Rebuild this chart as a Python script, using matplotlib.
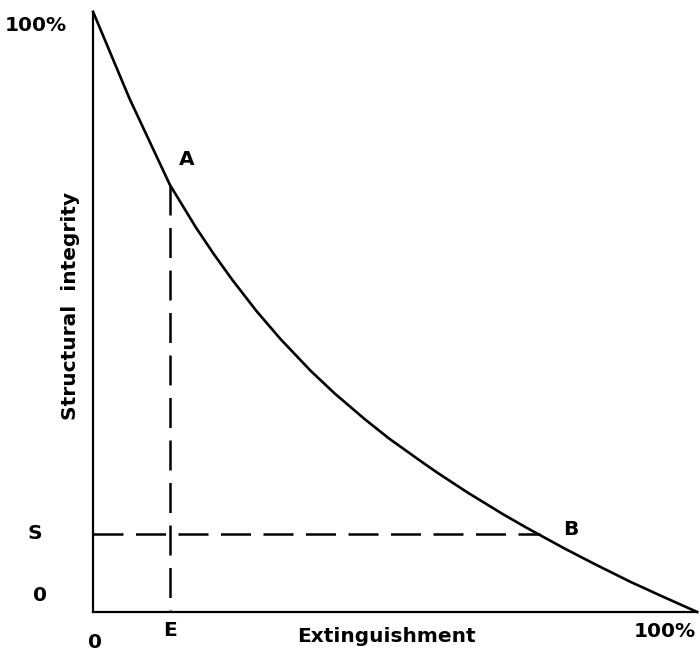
import matplotlib
matplotlib.use('Agg')
import matplotlib.pyplot as plt

# curve (extinguishment %, structural integrity %)
ext = [0, 6, 12.7, 17, 20, 23, 27, 31, 36, 40, 45,
       49, 54, 57, 62, 68, 72, 78, 83, 89, 94, 100]
integ = [100, 85.6, 71.2, 64.1, 59.6, 55.4, 50.2, 45.5, 40.2, 36.4, 32.1,
         28.9, 25.3, 23.2, 19.9, 16.2, 13.9, 10.6, 8.0, 5.0, 2.7, 0]

E = 12.7          # extinguishment at point A
A = (12.7, 71.2)
B = (74.0, 13.0)
S = 13.0          # structural integrity threshold

plt.rcParams['font.family'] = ['DejaVu Sans']
fig = plt.figure(figsize=(7, 6.57), dpi=100)
ax = fig.add_axes([0.133, 0.0685, 0.863, 0.9135])

ax.plot(ext, integ, color='black', lw=1.9, clip_on=False, zorder=3,
        solid_joinstyle='round')
# dashes start at A and at the y axis, like in the drawing
ax.plot([E, E], [A[1], 0], color='black', lw=1.8, dashes=(12, 5))
ax.plot([0, B[0]], [S, S], color='black', lw=1.8, dashes=(12, 5))

ax.set_xlim(0, 100)
ax.set_ylim(0, 100)
for side in ('top', 'right'):
    ax.spines[side].set_visible(False)
for side in ('left', 'bottom'):
    ax.spines[side].set_linewidth(1.6)
ax.set_xticks([])
ax.set_yticks([])

kw = dict(fontsize=14.5, fontweight='bold', clip_on=False)
ax.text(-4.4, 97.8, '100%', ha='right', va='center', **kw)
ax.text(-9.6, S, 'S', ha='center', va='center', **kw)
ax.text(-8.8, 2.8, '0', ha='center', va='center', **kw)
ax.text(0.3, -5.0, '0', ha='center', va='center', **kw)
ax.text(E, -3.0, 'E', ha='center', va='center', **kw)
ax.text(48.5, -4.0, 'Extinguishment', ha='center', va='center', **kw)
ax.text(94.7, -3.3, '100%', ha='center', va='center', **kw)
ax.text(A[0] + 2.8, A[1] + 4.2, 'A', ha='center', va='center', **kw)
ax.text(B[0] + 5.0, B[1] + 0.8, 'B', ha='center', va='center', **kw)
ax.text(-3.8, 51, 'Structural  integrity', rotation=90,
        ha='center', va='center', **kw)

fig.savefig('out.png', dpi=100)
